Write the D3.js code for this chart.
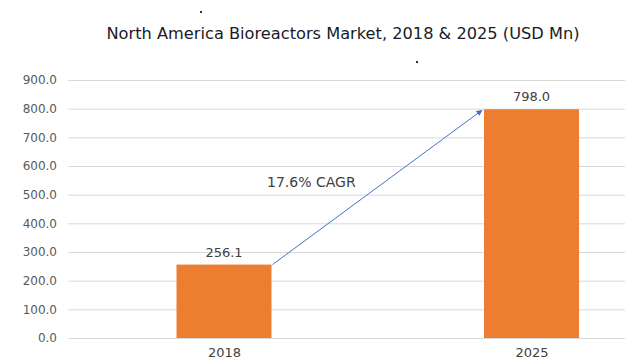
<!DOCTYPE html>
<head>
  <meta charset="utf-8">
  <script src="https://d3js.org/d3.v7.min.js"></script>
  <style>
    body { margin: 0; background: #fff; }
    svg { display: block; font-family: "Segoe UI", "Open Sans", "DejaVu Sans", sans-serif; }
  </style>
</head>
<body>
<script type='text/javascript'>

  var years = ["2018", "2025"];
  var values = [256.1, 798.0];
  var yTicks = [0, 100, 200, 300, 400, 500, 600, 700, 800, 900];
  var title = "North America Bioreactors Market, 2018 & 2025 (USD Mn)";
  var cagrLabel = "17.6% CAGR";

  var width = 638, height = 364;
  var plot = { left: 68, right: 625, top: 80, bottom: 338 };

  var svg = d3.select("body").append("svg")
    .attr("width", width)
    .attr("height", height);

  // scales
  var xScale = d3.scalePoint()
    .domain(years)
    .range([224, 531.5]);
  var barWidth = 95;

  var yScale = d3.scaleLinear()
    .domain([0, 900])
    .range([plot.bottom, plot.top]);

  // title and the two stray dots
  svg.append("text")
    .attr("x", 343).attr("y", 39)
    .attr("text-anchor", "middle")
    .style("font-size", "16px")
    .style("font-family", "'DejaVu Sans', Verdana, sans-serif")
    .style("fill", "#1a1a28")
    .attr("textLength", 473)
    .attr("lengthAdjust", "spacingAndGlyphs")
    .text(title);
  svg.append("rect").attr("x", 200).attr("y", 11).attr("width", 2).attr("height", 2).attr("fill", "#333");
  svg.append("rect").attr("x", 416).attr("y", 61).attr("width", 2).attr("height", 2).attr("fill", "#333");

  // gridlines + y labels
  var yAxis = d3.axisLeft(yScale)
    .tickValues(yTicks)
    .tickSize(-(plot.right - plot.left))
    .tickPadding(11)
    .tickFormat(d3.format(".1f"));

  var gy = svg.append("g")
    .attr("transform", "translate(" + plot.left + ",0)")
    .call(yAxis);
  gy.select(".domain").remove();
  gy.selectAll(".tick line").attr("stroke", "#d9d9d9");
  gy.selectAll(".tick text")
    .style("font-size", "12px")
    .style("font-family", "Verdana, 'DejaVu Sans', sans-serif")
    .attr("fill", "#595959");

  // bars
  svg.selectAll("rect.bar")
    .data(values)
    .enter().append("rect")
    .attr("class", "bar")
    .attr("x", (d, i) => xScale(years[i]) - barWidth / 2)
    .attr("y", d => yScale(d))
    .attr("width", barWidth)
    .attr("height", d => yScale(0) - yScale(d))
    .attr("fill", "#ed7d31");

  // value labels
  svg.selectAll("text.val")
    .data(values)
    .enter().append("text")
    .attr("class", "val")
    .attr("x", (d, i) => xScale(years[i]))
    .attr("y", d => yScale(d) - 8)
    .attr("text-anchor", "middle")
    .style("font-size", "13px")
    .style("font-family", "Verdana, 'DejaVu Sans', sans-serif")
    .attr("fill", "#404040")
    .text(d => d3.format(".1f")(d));

  // x labels
  var xAxis = d3.axisBottom(xScale).tickSize(0).tickPadding(10);
  var gx = svg.append("g")
    .attr("transform", "translate(0," + plot.bottom + ")")
    .call(xAxis);
  gx.select(".domain").remove();
  gx.selectAll(".tick text")
    .style("font-size", "13px")
    .style("font-family", "Verdana, 'DejaVu Sans', sans-serif")
    .attr("fill", "#404040");

  // CAGR arrow
  svg.append("defs").append("marker")
    .attr("id", "arrow")
    .attr("viewBox", "0 0 10 10")
    .attr("refX", 9).attr("refY", 5)
    .attr("markerWidth", 6).attr("markerHeight", 6)
    .attr("orient", "auto")
    .append("path")
    .attr("d", "M0,0L10,5L0,10z")
    .attr("fill", "#4472c4");

  svg.append("line")
    .attr("x1", xScale(years[0]) + barWidth / 2 + 1)
    .attr("y1", yScale(values[0]))
    .attr("x2", xScale(years[1]) - barWidth / 2 - 2)
    .attr("y2", yScale(values[1]) + 1)
    .attr("stroke", "#4472c4")
    .attr("stroke-width", 1)
    .attr("marker-end", "url(#arrow)");

  svg.append("text")
    .attr("x", 267).attr("y", 187)
    .style("font-size", "14px")
    .style("font-family", "Verdana, 'DejaVu Sans', sans-serif")
    .attr("fill", "#404040")
    .text(cagrLabel);

</script>
</body>
